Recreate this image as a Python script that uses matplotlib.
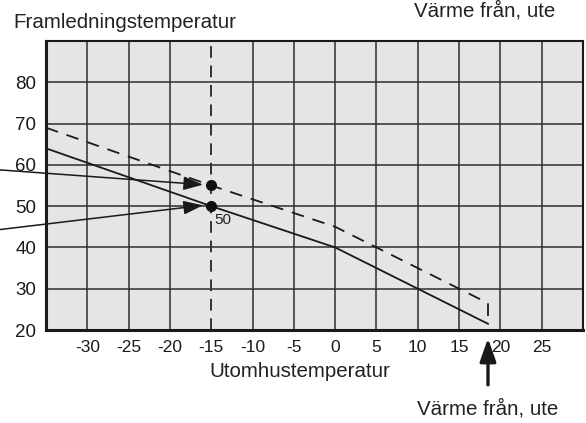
import matplotlib.pyplot as plt

# Kurvdata (utetemperatur -> framledningstemperatur)
ute_temp = [-35, -15, 0, 18.5]
framledning = [64, 50, 40, 21.5]
ute_temp_streck = [-35, -15, 0, 18.5, 18.5]
framledning_streck = [69, 55, 45, 26.5, 21.5]

# Markerade punkter vid -15 grader
punkt_x = [-15, -15]
punkt_y = [55, 50]
punkt_text = '50'

# Brytpunkt "Värme från, ute"
brytpunkt_x = 18.5

x_ticks = [-30, -25, -20, -15, -10, -5, 0, 5, 10, 15, 20, 25]
x_labels = ['-30', '-25', '-20', '-15', '-10', '-5', '0', '5', '10', '15', '20', '25']
y_ticks = [20, 30, 40, 50, 60, 70, 80]

plain = ['Liberation Sans', 'DejaVu Sans']
textfarg = '#222222'

fig = plt.figure(figsize=(5.86, 4.23), dpi=100)
ax = fig.add_axes([46 / 586, 93 / 423, 537 / 586, 289 / 423])
ax.set_facecolor('#e5e5e7')
ax.set_xlim(-35, 30)
ax.set_ylim(20, 90)

# rutnät (utom vid -15 där den streckade linjen går)
for x in x_ticks:
    if x != -15:
        ax.axvline(x, color='#2e2e2e', lw=1.1, zorder=1)
for y in y_ticks[1:] + [90]:
    ax.axhline(y, color='#2e2e2e', lw=1.1, zorder=1)
ax.axvline(-15, color='#333333', lw=1.4, dashes=(6, 4), zorder=2)

ax.plot(ute_temp, framledning, color='#1a1a1a', lw=1.3, zorder=3)
ax.plot(ute_temp_streck, framledning_streck, color='#1a1a1a', lw=1.3,
        dashes=(7, 5), zorder=3)
ax.plot(punkt_x, punkt_y, 'o', color='#111111', ms=7, zorder=4)
ax.text(punkt_x[1] + 0.4, punkt_y[1] - 1.6, punkt_text, fontsize=11,
        family=plain, va='top', ha='left', color=textfarg)

# pilar från vänster
for (px, py), start_y in zip(zip(punkt_x, punkt_y), [58.8, 44.3]):
    ax.annotate('', xy=(px - 1.0, py + 0.2), xytext=(-40.7, start_y),
                xycoords='data', textcoords='data', annotation_clip=False,
                arrowprops=dict(arrowstyle='-|>,head_length=0.85,head_width=0.3',
                                color='#1a1a1a', lw=1.1, shrinkA=0, shrinkB=0,
                                mutation_scale=14))

# pil under diagrammet
ax.annotate('', xy=(brytpunkt_x, 18.0), xytext=(brytpunkt_x, 6.7),
            xycoords='data', textcoords='data', annotation_clip=False,
            arrowprops=dict(arrowstyle='-|>,head_length=1.0,head_width=0.35',
                            color='#1a1a1a', lw=2.4, shrinkA=0, shrinkB=0,
                            mutation_scale=14))
ax.text(brytpunkt_x, 1.0, 'Värme från, ute', fontsize=14.8, family=plain,
        ha='center', va='center', color=textfarg, clip_on=False)
fig.text(485 / 586, 1 - 11 / 423, 'Värme från, ute', fontsize=14.8,
         family=plain, ha='center', va='center', color=textfarg)
fig.text(13 / 586, 1 - 23 / 423, 'Framledningstemperatur', fontsize=14.8,
         family=plain, ha='left', va='center', color=textfarg)

ax.set_xticks(x_ticks)
ax.set_xticklabels(x_labels, family=plain, fontsize=12.5)
ax.set_yticks(y_ticks)
ax.set_yticklabels([str(v) for v in y_ticks], family=plain, fontsize=13.5)
ax.tick_params(length=0, colors='#1a1a1a')
ax.tick_params(axis='y', pad=7)
ax.tick_params(axis='x', pad=7)
ax.set_xlabel('Utomhustemperatur', fontsize=14.8, family=plain,
              color=textfarg, labelpad=3)
ax.xaxis.set_label_coords(254 / 537, -0.112)

for side in ['left', 'bottom']:
    ax.spines[side].set_linewidth(2.2)
for side in ['top', 'right']:
    ax.spines[side].set_linewidth(1.5)
for s in ax.spines.values():
    s.set_color('#1a1a1a')

fig.savefig('out.png', dpi=100)
